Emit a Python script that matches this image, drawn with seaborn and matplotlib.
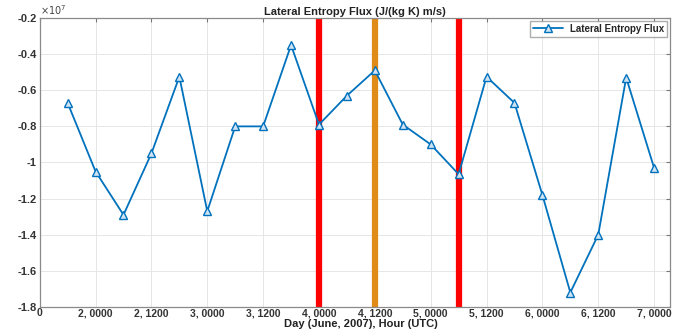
import numpy as np
import pandas as pd
import seaborn as sns
import matplotlib.pyplot as plt

# data (x in half-day steps of 12 h, y in units of 1e7)
step = [0.5, 1, 1.5, 2, 2.5, 3, 3.5, 4, 4.5, 5, 5.5,
        6, 6.5, 7, 7.5, 8, 8.5, 9, 9.5, 10, 10.5, 11]
flux = [-0.67, -1.05, -1.29, -0.95, -0.525, -1.27, -0.80, -0.80, -0.35, -0.79, -0.63,
        -0.49, -0.79, -0.90, -1.065, -0.525, -0.67, -1.18, -1.72, -1.40, -0.53, -1.03]
red_lines = [5, 7.5]
orange_lines = [6]
xtick_pos = [0, 1, 2, 3, 4, 5, 6, 7, 8, 9, 10, 11]
xtick_labels = ["0", "2, 0000", "2, 1200", "3, 0000", "3, 1200", "4, 0000",
                "4, 1200", "5, 0000", "5, 1200", "6, 0000", "6, 1200", "7, 0000"]
ytick_pos = [-0.2, -0.4, -0.6, -0.8, -1.0, -1.2, -1.4, -1.6, -1.8]
ytick_labels = ["-0.2", "-0.4", "-0.6", "-0.8", "-1", "-1.2", "-1.4", "-1.6", "-1.8"]

sns.set_style("whitegrid")
plt.rcParams['font.family'] = ['Liberation Sans', 'DejaVu Sans']

df = pd.DataFrame({"step": step, "flux": flux})

fig = plt.figure(figsize=(6.73, 3.34), dpi=100)
ax = fig.add_axes([0.059, 0.081, 0.937, 0.865])

blue = "#0072BD"
sns.lineplot(data=df, x="step", y="flux", ax=ax, color=blue, linewidth=1.3,
             marker="^", markersize=5.5, markerfacecolor="#cfe3f3",
             markeredgecolor=blue, markeredgewidth=1.0,
             label="Lateral Entropy Flux")

for xv in red_lines:
    ax.axvline(xv, color="#ff0000", linewidth=4.5, zorder=1)
for xv in orange_lines:
    ax.axvline(xv, color="#e08a17", linewidth=4.5, zorder=1)

ax.set_xlim(0, 11.29)
ax.set_ylim(-1.8, -0.2)
ax.set_xticks(xtick_pos)
ax.set_xticklabels(xtick_labels, fontsize=7.5, fontweight="bold", color="#333333")
ax.set_yticks(ytick_pos)
ax.set_yticklabels(ytick_labels, fontsize=8, fontweight="bold", color="#333333")
ax.tick_params(direction="in", length=3, top=True, right=True, color="#777777", pad=2)
ax.tick_params(axis="x", pad=1)
ax.grid(True, color="#e6e6e6", linewidth=0.7)
for s in ax.spines.values():
    s.set_color("#8a8a8a")
    s.set_linewidth(0.9)

ax.set_xlabel("Day (June, 2007), Hour (UTC)", fontsize=8, fontweight="bold",
              color="#222222", labelpad=0)
ax.xaxis.set_label_coords(0.51, -0.041)
ax.set_ylabel("")
ax.set_title("Lateral Entropy Flux (J/(kg K) m/s)", fontsize=8, fontweight="bold",
             color="#222222", pad=2)
ax.text(0.0, 1.005, r"$\times10^{7}$", transform=ax.transAxes, fontsize=7,
        color="#444444", ha="left", va="bottom")

leg = ax.legend(loc="upper right", fontsize=7, frameon=True, fancybox=False,
                borderpad=0.3, handlelength=3, borderaxespad=0.3)
leg.get_frame().set_edgecolor("#999999")
for t in leg.get_texts():
    t.set_fontweight("bold")

fig.savefig("out.png", dpi=100)
